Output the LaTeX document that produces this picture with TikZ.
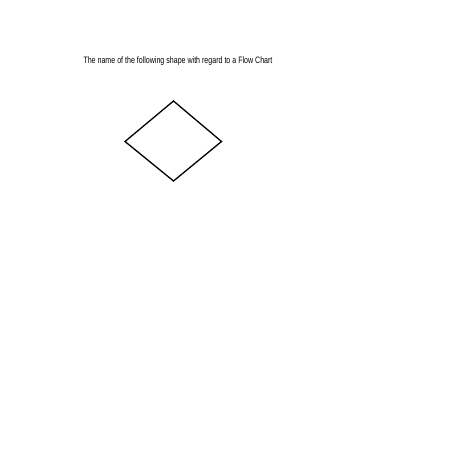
\documentclass[tikz,border=0pt]{standalone}
\usepackage{fontspec}
\setmainfont{Liberation Sans}
\newfontfamily\narrowfont[FakeStretch=0.76]{Liberation Sans}
\begin{document}
\begin{tikzpicture}[x=1pt,y=-1pt]
            \useasboundingbox (0,0) rectangle (452,452);
            \tikzset{question/.style={font=\narrowfont\fontsize{9.3}{11}\selectfont,inner sep=0pt}}
            \node[question,anchor=west] (title) at (83.3,61) {The name of the following shape with regard to a Flow Chart};
            % the decision shape
            \coordinate (top) at (173.5,101);
            \coordinate (left) at (125,141.5);
            \coordinate (right) at (221.5,141.5);
            \coordinate (bottom) at (173.5,181);
            \draw[line width=1.3pt,line join=miter] (top)--(right)--(bottom)--(left)--cycle;
\end{tikzpicture}
\end{document}
